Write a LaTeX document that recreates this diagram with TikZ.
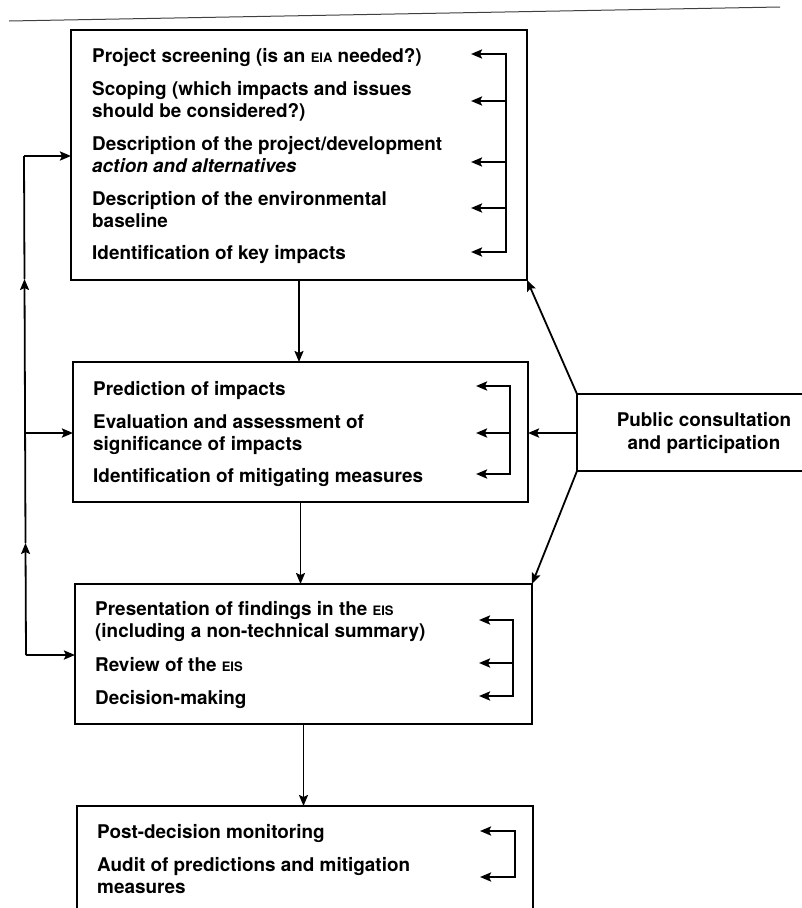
\documentclass[tikz,border=0pt]{standalone}
\usepackage{fontspec}
\setmainfont{TeX Gyre Heros}
\usetikzlibrary{arrows.meta}
\newcommand\smc[1]{{\fontsize{13}{13}\selectfont #1}}
\tikzset{
  box/.style={draw, line width=1.9pt, inner sep=0pt, outer sep=0pt, anchor=north west},
  txt/.style={font=\fontsize{18.9}{21.5}\selectfont\bfseries, inner sep=0pt, anchor=base west},
  ctxt/.style={font=\fontsize{18.9}{22.5}\selectfont\bfseries, inner sep=0pt, align=center},
  arr/.style={-{Stealth[length=11pt,width=9pt,inset=2pt]}, line width=1.8pt},
  barr/.style={-{Stealth[length=11pt,width=9pt,inset=2pt]}, line width=2.3pt},
  bar/.style={line width=2.2pt},
}
\begin{document}
\begin{tikzpicture}[x=1pt,y=-1pt]
\useasboundingbox (0,0) rectangle (802,908);
\clip (0,0) rectangle (802,908);
% top rule
\draw[line width=1pt, black!75] (9,21) -- (780,7);

% boxes
\node[box, minimum width=456pt, minimum height=250pt] (b1) at (71,30) {};
\node[box, minimum width=455pt, minimum height=140pt] (b2) at (73,362) {};
\node[box, minimum width=457pt, minimum height=140pt] (b3) at (75,584) {};
\node[box, minimum width=456pt, minimum height=140pt] (b4) at (77,806) {};
\node[box, minimum width=260pt, minimum height=77pt] (pc) at (577,394) {};

% texts box 1
\node[txt] (t1a) at (92,62) {Project screening (is an \smc{EIA} needed?)};
\node[txt] (t2a) at (92,95) {Scoping (which impacts and issues};
\node[txt] (t2b) at (92,117) {should be considered?)};
\node[txt] (t3a) at (92,150) {Description of the project/development};
\node[txt] (t3b) at (92,172) {\itshape action and alternatives};
\node[txt] (t4a) at (92,205) {Description of the environmental};
\node[txt] (t4b) at (92,227) {baseline};
\node[txt] (t5a) at (92,259) {Identification of key impacts};

% texts box 2
\node[txt] (u1a) at (93,395) {Prediction of impacts};
\node[txt] (u2a) at (93,428) {Evaluation and assessment of};
\node[txt] (u2b) at (93,450) {significance of impacts};
\node[txt] (u3a) at (93,482) {Identification of mitigating measures};

% texts box 3
\node[txt] (v1a) at (95,615) {Presentation of findings in the \smc{EIS}};
\node[txt] (v1b) at (95,637) {(including a non-technical summary)};
\node[txt] (v2a) at (95,671) {Review of the \smc{EIS}};
\node[txt] (v3a) at (95,704) {Decision-making};

% texts box 4
\node[txt] (w1a) at (97,838) {Post-decision monitoring};
\node[txt] (w2a) at (97,871) {Audit of predictions and mitigation};
\node[txt] (w2b) at (97,893) {measures};

% public consultation text
\node[ctxt] (pct) at (704,433) {Public consultation\\and participation};

% brackets
\draw[bar] (506,53) -- (506,253);
\foreach \y in {54,101,162,208,252} \draw[barr] (506,\y) -- (471,\y);
\draw[bar] (510,385) -- (510,475);
\foreach \y in {386,433,474} \draw[barr] (510,\y) -- (476,\y);
\draw[bar] (513,619) -- (513,697);
\foreach \y in {620,663,696} \draw[barr] (513,\y) -- (479,\y);
\draw[bar] (515,830) -- (515,878);
\foreach \y in {831,877} \draw[barr] (515,\y) -- (480,\y);

% vertical flow
\draw[arr] (b1.south) -- (b1.south |- b2.north);
\draw[arr] (b2.south) -- (b2.south |- b3.north);
\draw[arr] (b3.south) -- (b3.south |- b4.north);

% public consultation connectors
\draw[arr] (pc.north west) -- (b1.south east);
\draw[arr] (pc.south west) -- (b3.north east);
\coordinate (pm) at (577,433);
\draw[barr] (pm) -- (b2.east |- pm);

% left feedback loop
\coordinate (L1) at (24,156);
\coordinate (L2) at (25,433);
\coordinate (L3) at (26,655);
\coordinate (M1) at (24.5,279);
\coordinate (M2) at (25.5,543);
\draw[barr] (L1) -- (b1.west |- L1);
\draw[barr] (L2) -- (b2.west |- L2);
\draw[barr] (L3) -- (b3.west |- L3);
\draw[arr] (L3) -- (M2);
\draw[arr] (M2) -- (M1);
\draw[line width=1.8pt] (M1) -- (L1);
\end{tikzpicture}
\end{document}
